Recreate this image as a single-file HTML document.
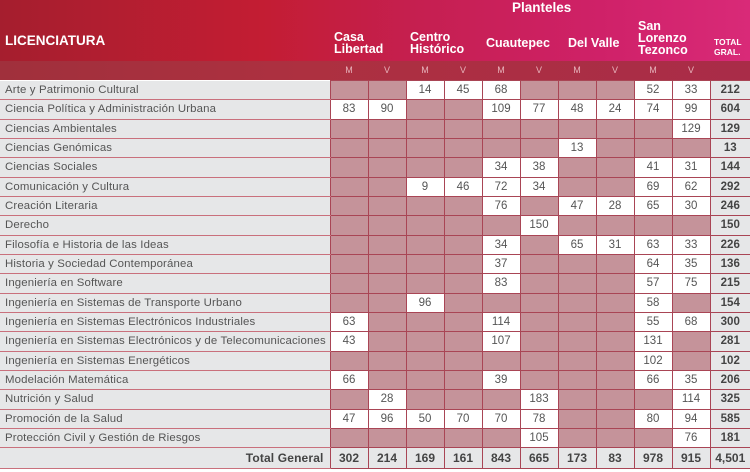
<!DOCTYPE html>
<html><head><meta charset="utf-8"><style>
*{margin:0;padding:0;box-sizing:border-box}
body{width:750px;height:472px;background:#fff;font-family:"Liberation Sans",sans-serif;overflow:hidden;position:relative}
#hdr{position:absolute;left:0;top:0;width:750px;height:61px;background:linear-gradient(90deg,#a51e2e 0%,#c31d33 35%,#c51f4f 55%,#cf2168 80%,#d92a78 100%)}
#sub{position:absolute;left:0;top:61px;width:750px;height:19px;background:linear-gradient(90deg,#a0303c 0%,#ad3040 40%,#a92c48 100%)}
.h{position:absolute;color:#fff;font-weight:bold;line-height:12px;font-size:12.5px}
.mv{position:absolute;top:61px;height:19px;width:38px;text-align:center;line-height:19px;font-size:9px;color:#e8b4bc}
table{position:absolute;left:0;top:80px;border-collapse:collapse;table-layout:fixed;width:750px}
td{height:19.33px;font-size:11.5px;color:#555;text-align:center;border:1px solid #a94555;padding:0;background:#fff;white-space:nowrap}
td.n{text-align:left;padding-left:5px;background:#e6e7e8;border-left:none;border-top:1px solid #fff;border-bottom:1px solid #c9707c;font-size:11.4px;letter-spacing:0.15px}
td.e{background:#c5939a}
td.t{background:#e6e7e8;font-weight:bold;border-right:none;color:#444}
tr.tot td{height:21px;font-weight:bold;background:#e6e7e8;font-size:12px;color:#444}
tr.tot td.n{text-align:right;padding-right:6px}
</style></head><body>
<div id="hdr"></div><div id="sub"></div>
<div class="h" style="left:512px;top:2px;font-size:13.5px">Planteles</div>
<div class="h" style="left:5px;top:35px;font-size:13.5px">LICENCIATURA</div>
<div class="h" style="left:334px;top:31px">Casa<br>Libertad</div>
<div class="h" style="left:410px;top:31px">Centro<br>Histórico</div>
<div class="h" style="left:486px;top:37px">Cuautepec</div>
<div class="h" style="left:568px;top:37px">Del Valle</div>
<div class="h" style="left:638px;top:20px">San<br>Lorenzo<br>Tezonco</div>
<div class="h" style="left:714px;top:37px;font-size:8.5px;line-height:10px">TOTAL<br>GRAL.</div>
<div class="mv" style="left:330px">M</div><div class="mv" style="left:368px">V</div>
<div class="mv" style="left:406px">M</div><div class="mv" style="left:444px">V</div>
<div class="mv" style="left:482px">M</div><div class="mv" style="left:520px">V</div>
<div class="mv" style="left:558px">M</div><div class="mv" style="left:596px">V</div>
<div class="mv" style="left:634px">M</div><div class="mv" style="left:672px">V</div>
<table>
<colgroup><col style="width:330px"><col span="10" style="width:38px"><col style="width:40px"></colgroup>
<tr><td class="n">Arte y Patrimonio Cultural</td><td class="e"></td><td class="e"></td><td>14</td><td>45</td><td>68</td><td class="e"></td><td class="e"></td><td class="e"></td><td>52</td><td>33</td><td class="t">212</td></tr>
<tr><td class="n">Ciencia Política y Administración Urbana</td><td>83</td><td>90</td><td class="e"></td><td class="e"></td><td>109</td><td>77</td><td>48</td><td>24</td><td>74</td><td>99</td><td class="t">604</td></tr>
<tr><td class="n">Ciencias Ambientales</td><td class="e"></td><td class="e"></td><td class="e"></td><td class="e"></td><td class="e"></td><td class="e"></td><td class="e"></td><td class="e"></td><td class="e"></td><td>129</td><td class="t">129</td></tr>
<tr><td class="n">Ciencias Genómicas</td><td class="e"></td><td class="e"></td><td class="e"></td><td class="e"></td><td class="e"></td><td class="e"></td><td>13</td><td class="e"></td><td class="e"></td><td class="e"></td><td class="t">13</td></tr>
<tr><td class="n">Ciencias Sociales</td><td class="e"></td><td class="e"></td><td class="e"></td><td class="e"></td><td>34</td><td>38</td><td class="e"></td><td class="e"></td><td>41</td><td>31</td><td class="t">144</td></tr>
<tr><td class="n">Comunicación y Cultura</td><td class="e"></td><td class="e"></td><td>9</td><td>46</td><td>72</td><td>34</td><td class="e"></td><td class="e"></td><td>69</td><td>62</td><td class="t">292</td></tr>
<tr><td class="n">Creación Literaria</td><td class="e"></td><td class="e"></td><td class="e"></td><td class="e"></td><td>76</td><td class="e"></td><td>47</td><td>28</td><td>65</td><td>30</td><td class="t">246</td></tr>
<tr><td class="n">Derecho</td><td class="e"></td><td class="e"></td><td class="e"></td><td class="e"></td><td class="e"></td><td>150</td><td class="e"></td><td class="e"></td><td class="e"></td><td class="e"></td><td class="t">150</td></tr>
<tr><td class="n">Filosofía e Historia de las Ideas</td><td class="e"></td><td class="e"></td><td class="e"></td><td class="e"></td><td>34</td><td class="e"></td><td>65</td><td>31</td><td>63</td><td>33</td><td class="t">226</td></tr>
<tr><td class="n">Historia y Sociedad Contemporánea</td><td class="e"></td><td class="e"></td><td class="e"></td><td class="e"></td><td>37</td><td class="e"></td><td class="e"></td><td class="e"></td><td>64</td><td>35</td><td class="t">136</td></tr>
<tr><td class="n">Ingeniería en Software</td><td class="e"></td><td class="e"></td><td class="e"></td><td class="e"></td><td>83</td><td class="e"></td><td class="e"></td><td class="e"></td><td>57</td><td>75</td><td class="t">215</td></tr>
<tr><td class="n">Ingeniería en Sistemas de Transporte Urbano</td><td class="e"></td><td class="e"></td><td>96</td><td class="e"></td><td class="e"></td><td class="e"></td><td class="e"></td><td class="e"></td><td>58</td><td class="e"></td><td class="t">154</td></tr>
<tr><td class="n">Ingeniería en Sistemas Electrónicos Industriales</td><td>63</td><td class="e"></td><td class="e"></td><td class="e"></td><td>114</td><td class="e"></td><td class="e"></td><td class="e"></td><td>55</td><td>68</td><td class="t">300</td></tr>
<tr><td class="n">Ingeniería en Sistemas Electrónicos y de Telecomunicaciones</td><td>43</td><td class="e"></td><td class="e"></td><td class="e"></td><td>107</td><td class="e"></td><td class="e"></td><td class="e"></td><td>131</td><td class="e"></td><td class="t">281</td></tr>
<tr><td class="n">Ingeniería en Sistemas Energéticos</td><td class="e"></td><td class="e"></td><td class="e"></td><td class="e"></td><td class="e"></td><td class="e"></td><td class="e"></td><td class="e"></td><td>102</td><td class="e"></td><td class="t">102</td></tr>
<tr><td class="n">Modelación Matemática</td><td>66</td><td class="e"></td><td class="e"></td><td class="e"></td><td>39</td><td class="e"></td><td class="e"></td><td class="e"></td><td>66</td><td>35</td><td class="t">206</td></tr>
<tr><td class="n">Nutrición y Salud</td><td class="e"></td><td>28</td><td class="e"></td><td class="e"></td><td class="e"></td><td>183</td><td class="e"></td><td class="e"></td><td class="e"></td><td>114</td><td class="t">325</td></tr>
<tr><td class="n">Promoción de la Salud</td><td>47</td><td>96</td><td>50</td><td>70</td><td>70</td><td>78</td><td class="e"></td><td class="e"></td><td>80</td><td>94</td><td class="t">585</td></tr>
<tr><td class="n">Protección Civil y Gestión de Riesgos</td><td class="e"></td><td class="e"></td><td class="e"></td><td class="e"></td><td class="e"></td><td>105</td><td class="e"></td><td class="e"></td><td class="e"></td><td>76</td><td class="t">181</td></tr>
<tr class="tot"><td class="n">Total General</td><td>302</td><td>214</td><td>169</td><td>161</td><td>843</td><td>665</td><td>173</td><td>83</td><td>978</td><td>915</td><td class="t">4,501</td></tr>
</table>
</body></html>
